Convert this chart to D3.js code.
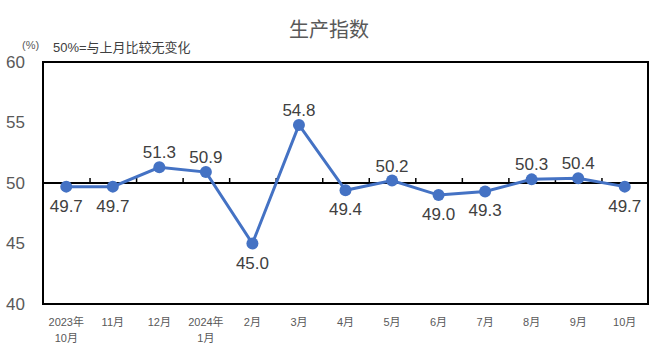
<!DOCTYPE html>
<html><head><meta charset="utf-8">
<script src="https://cdn.jsdelivr.net/npm/d3@7/dist/d3.min.js"></script>
<style>body{margin:0;background:#fff;}text{font-family:"Liberation Sans","Noto Sans CJK SC",sans-serif;}</style>
</head><body><svg id="c" width="658" height="360"></svg>
<script>
const categories = ["2023年\n10月","11月","12月","2024年\n1月","2月","3月","4月","5月","6月","7月","8月","9月","10月"];
const values = [49.7,49.7,51.3,50.9,45.0,54.8,49.4,50.2,49.0,49.3,50.3,50.4,49.7];
const labelPos = ["below","below","above","above","below","above","below","above","below","below","above","above","below"];
const yTicks = [40,45,50,55,60];
const title = "生产指数";
const unitLabel = "(%)";
const note = "50%=与上月比较无变化";

const svg = d3.select("#c");
const L=43, R=648, T=62, B=304;
const x = d3.scaleBand().domain(d3.range(categories.length)).range([L,R]);
const y = d3.scaleLinear().domain([40,60]).range([B,T]);
const cx = i => x(i)+x.bandwidth()/2;

svg.append("text").attr("x",329).attr("y",37).attr("text-anchor","middle")
  .attr("font-size",20).attr("fill","#595959").text(title);
svg.append("text").attr("x",22).attr("y",49).attr("font-size",11).attr("fill","#595959").text(unitLabel);
svg.append("text").attr("x",53).attr("y",52).attr("font-size",13).attr("fill","#404040").text(note);

// y axis labels
const ya = svg.append("g").attr("transform",`translate(${L},0)`)
  .call(d3.axisLeft(y).tickValues(yTicks).tickSize(0).tickPadding(18));
ya.select(".domain").remove();
ya.selectAll("text").attr("font-size",17).attr("fill","#595959").style("font-family","Liberation Sans");

// frame
svg.append("rect").attr("x",L).attr("y",T).attr("width",R-L).attr("height",B-T)
  .attr("fill","none").attr("stroke","#000").attr("stroke-width",2);

// 50 baseline with ticks at band boundaries
const xa = svg.append("g").attr("transform",`translate(0,${y(50)})`)
  .call(d3.axisTop(d3.scaleLinear().domain([0,categories.length]).range([L,R]))
    .tickValues(d3.range(1,categories.length)).tickSize(5).tickFormat(""));
xa.select(".domain").attr("stroke","#000").attr("stroke-width",2).attr("d",`M${L},0H${R}`);
xa.selectAll(".tick line").attr("stroke","#000").attr("stroke-width",1.5);

// x labels
const xl = svg.append("g");
categories.forEach((c,i)=>{
  const t = xl.append("text").attr("x",cx(i)).attr("y",326).attr("text-anchor","middle")
    .attr("font-size",11).attr("fill","#595959");
  c.split("\n").forEach((s,j)=>t.append("tspan").attr("x",cx(i)).attr("dy",j?16:0).text(s));
});

// line
svg.append("path").datum(values)
  .attr("d",d3.line().x((d,i)=>cx(i)).y(d=>y(d)))
  .attr("fill","none").attr("stroke","#4472C4").attr("stroke-width",3);
svg.selectAll("circle.m").data(values).join("circle").attr("class","m")
  .attr("cx",(d,i)=>cx(i)).attr("cy",d=>y(d)).attr("r",6).attr("fill","#4472C4");

// data labels
svg.selectAll("text.v").data(values).join("text").attr("class","v")
  .attr("x",(d,i)=>cx(i)).attr("y",(d,i)=>labelPos[i]==="above"? y(d)-9 : y(d)+25)
  .attr("text-anchor","middle").attr("font-size",17).attr("fill","#404040")
  .text(d=>d.toFixed(1));
</script></body></html>
